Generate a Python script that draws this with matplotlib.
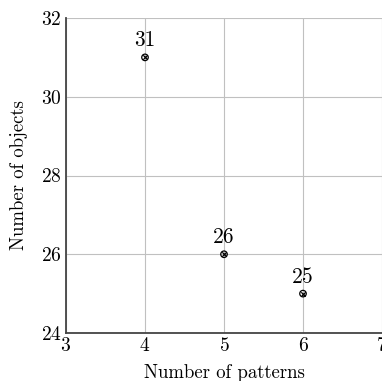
import matplotlib
matplotlib.use("Agg")
import matplotlib.pyplot as plt

patterns = [4, 5, 6]
objects = [31, 26, 25]
labels = ["31", "26", "25"]
xticks = [3, 4, 5, 6, 7]
yticks = [24, 26, 28, 30, 32]

plt.rcParams['font.family'] = 'serif'
plt.rcParams['font.serif'] = ['cmr10']
plt.rcParams['axes.formatter.use_mathtext'] = True

fig = plt.figure(figsize=(3.82, 3.81), dpi=100)
ax = fig.add_axes([66/382, 48/381, 316/382, 315/381])
ax.set_xlim(3, 7)
ax.set_ylim(24, 32)
ax.set_xticks(xticks)
ax.set_yticks(yticks)
ax.grid(True, color='#c0c0c0', linewidth=0.8)
ax.set_axisbelow(True)
for s in ['top', 'right']:
    ax.spines[s].set_visible(False)
for s in ['left', 'bottom']:
    ax.spines[s].set_color('#444444')
    ax.spines[s].set_linewidth(1.3)
ax.tick_params(length=0, labelsize=14, pad=3)
ax.scatter(patterns, objects, s=22, facecolors='none', edgecolors='black', linewidths=0.9, zorder=3)
ax.scatter(patterns, objects, s=10, marker='x', color='black', linewidths=0.9, zorder=3)
for x, y, t in zip(patterns, objects, labels):
    ax.annotate(t, (x, y), xytext=(0, 5), textcoords='offset points', ha='center', va='bottom', fontsize=15.5)
ax.set_xlabel('Number of patterns', fontsize=13.5, labelpad=6)
ax.set_ylabel('Number of objects', fontsize=13.5, labelpad=9)
fig.savefig('out.png', dpi=100)
